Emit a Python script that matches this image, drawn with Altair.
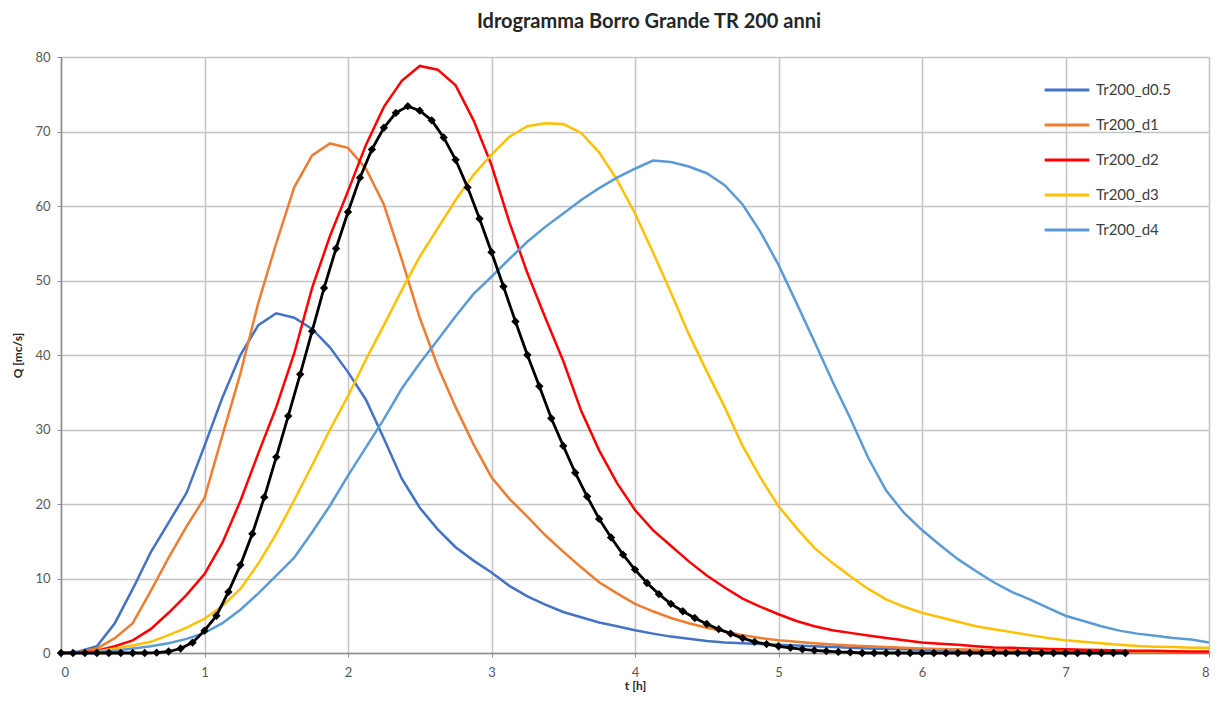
import altair as alt
import pandas as pd

t_grid = [i * 0.125 for i in range(65)]

d05 = [0, 0.2, 0.9, 4.0, 8.6, 13.5, 17.5, 21.5, 27.8, 34.3, 40.0, 44.0, 45.6, 45.0, 43.5, 41.0,
       37.7, 34.0, 28.8, 23.4, 19.5, 16.6, 14.2, 12.4, 10.8, 9.0, 7.6, 6.5, 5.5, 4.8, 4.1, 3.6,
       3.05, 2.6, 2.2, 1.9, 1.6, 1.4, 1.3, 1.2, 1.1, 1.0, 0.9, 0.8, 0.7, 0.6, 0.55, 0.5,
       0.45, 0.4, 0.35, 0.3, 0.3, 0.25, 0.2, 0.2, 0.15, 0.15, 0.1, 0.1, 0.1, 0.05, 0.05, 0.05, 0.05]
d1 = [0, 0.1, 0.6, 2.0, 4.0, 8.3, 12.8, 17.0, 20.8, 29.2, 37.5, 47.0, 55.0, 62.5, 66.8, 68.4,
      67.8, 65.0, 60.2, 52.8, 45.0, 38.5, 33.0, 28.0, 23.6, 20.7, 18.3, 15.8, 13.6, 11.5, 9.5, 8.0,
      6.6, 5.6, 4.7, 4.0, 3.4, 2.9, 2.4, 2.0, 1.7, 1.5, 1.3, 1.15, 1.0, 0.9, 0.8, 0.7,
      0.6, 0.55, 0.5, 0.45, 0.4, 0.35, 0.3, 0.3, 0.25, 0.2, 0.2, 0.15, 0.15, 0.1, 0.1, 0.1, 0.1]
d2 = [0, 0.05, 0.3, 0.9, 1.7, 3.2, 5.4, 7.8, 10.6, 14.8, 20.4, 26.8, 33.0, 40.2, 49.0, 56.0,
      62.0, 68.2, 73.3, 76.8, 78.8, 78.3, 76.2, 71.5, 65.5, 57.8, 51.0, 45.0, 39.2, 32.5, 27.2, 22.8,
      19.2, 16.5, 14.4, 12.3, 10.4, 8.8, 7.3, 6.2, 5.2, 4.3, 3.6, 3.05, 2.7, 2.35, 2.0, 1.7,
      1.4, 1.25, 1.1, 0.9, 0.75, 0.7, 0.6, 0.55, 0.5, 0.45, 0.4, 0.35, 0.3, 0.3, 0.25, 0.2, 0.2]
d3 = [0, 0.05, 0.2, 0.6, 1.0, 1.5, 2.4, 3.4, 4.6, 6.3, 8.6, 12.0, 16.0, 20.5, 25.2, 30.0,
      34.5, 39.4, 44.0, 48.7, 53.2, 57.0, 60.8, 64.2, 66.9, 69.3, 70.7, 71.1, 71.0, 69.8, 67.2, 63.5,
      59.0, 53.8, 48.4, 42.8, 37.8, 33.0, 27.8, 23.5, 19.7, 16.8, 14.1, 12.1, 10.3, 8.6, 7.2, 6.2,
      5.4, 4.8, 4.2, 3.6, 3.2, 2.8, 2.4, 2.0, 1.7, 1.5, 1.3, 1.1, 0.95, 0.85, 0.8, 0.7, 0.7]
d4 = [0, 0.05, 0.15, 0.3, 0.6, 0.9, 1.3, 1.9, 2.7, 4.0, 5.8, 8.0, 10.4, 12.8, 16.2, 19.8,
      23.8, 27.6, 31.4, 35.5, 38.9, 42.0, 45.2, 48.2, 50.5, 52.9, 55.2, 57.2, 59.0, 60.8, 62.4, 63.8,
      65.0, 66.1, 65.9, 65.3, 64.4, 62.8, 60.2, 56.5, 52.1, 47.0, 41.8, 36.5, 31.5, 26.2, 21.8, 18.8,
      16.5, 14.5, 12.6, 11.0, 9.5, 8.2, 7.2, 6.1, 5.0, 4.3, 3.6, 3.0, 2.6, 2.3, 2.0, 1.8, 1.4]

series_names = ["Tr200_d0.5", "Tr200_d1", "Tr200_d2", "Tr200_d3", "Tr200_d4"]
series_colors = ["#4472C4", "#ED7D31", "#FF0000", "#FFC000", "#5B9BD5"]

# black series with markers, 5-minute steps
t_black = [i / 12 for i in range(90)]
q_black = [0, 0, 0, 0, 0, 0, 0, 0, 0.05, 0.2, 0.6, 1.4, 3.0, 5.0, 8.2, 11.8, 16.0, 20.9, 26.3,
           31.8, 37.4, 43.2, 49.0, 54.3, 59.2, 63.8, 67.6, 70.5, 72.5, 73.4, 72.8, 71.5, 69.2,
           66.2, 62.5, 58.3, 53.8, 49.2, 44.5, 40.0, 35.8, 31.5, 27.8, 24.2, 21.0, 18.0, 15.5,
           13.2, 11.2, 9.4, 7.9, 6.6, 5.6, 4.7, 3.9, 3.2, 2.6, 2.0, 1.5, 1.2, 0.9, 0.7, 0.5,
           0.35, 0.25, 0.15, 0.1] + [0] * 23

x_ticks = [0, 1, 2, 3, 4, 5, 6, 7, 8]
y_ticks = [0, 10, 20, 30, 40, 50, 60, 70, 80]

rows = []
for name, vals in zip(series_names, [d05, d1, d2, d3, d4]):
    for t, q in zip(t_grid, vals):
        rows.append({"t": t, "Q": q, "serie": name})
df = pd.DataFrame(rows)
df_black = pd.DataFrame({"t": t_black, "Q": q_black})

FONT = "Lato"

x_enc = alt.X("t:Q", scale=alt.Scale(domain=[0, 8], nice=False),
              axis=alt.Axis(title="t [h]", values=x_ticks, format="d"))
y_enc = alt.Y("Q:Q", scale=alt.Scale(domain=[0, 80], nice=False),
              axis=alt.Axis(title="Q [mc/s]", values=y_ticks, format="d"))

lines = alt.Chart(df).mark_line(strokeWidth=2.5).encode(
    x=x_enc,
    y=y_enc,
    color=alt.Color("serie:N", scale=alt.Scale(domain=series_names, range=series_colors),
                    sort=series_names,
                    legend=alt.Legend(title=None, orient="none", legendX=982, legendY=9,
                                      symbolType="stroke", symbolStrokeWidth=3, symbolSize=2000,
                                      labelFontSize=15, labelFont=FONT, labelColor="#404040",
                                      rowPadding=3, labelOffset=5)),
    order=alt.Order("t:Q"),
)

black = alt.Chart(df_black).mark_line(
    color="black", strokeWidth=2.8,
    point=alt.OverlayMarkDef(shape="diamond", filled=True, size=70, color="black"),
).encode(x="t:Q", y="Q:Q")

chart = alt.layer(lines, black).properties(
    width=1148, height=596,
    title=alt.Title("Idrogramma Borro Grande TR 200 anni", fontSize=20, font=FONT,
                    fontWeight="bold", color="#262626", offset=19, anchor="middle", dx=14),
    padding={"left": 53, "top": 49, "right": 3, "bottom": 39},
    autosize=alt.AutoSizeParams(type="none"),
).configure_view(stroke=None).configure_axis(
    grid=True, gridColor="#C4C4C4", gridWidth=1.5,
    domainColor="#8C8C8C", domainWidth=1.5, tickColor="#8C8C8C", tickSize=4,
    labelFont=FONT, labelFontSize=13, labelColor="#595959",
    titleFont=FONT, titleFontSize=12, titleFontWeight="bold", titleColor="#262626",
).configure_axisX(labelPadding=9, titlePadding=1).configure_axisY(
    labelPadding=7, titlePadding=10)

chart.save("out.html", embed_options={"renderer": "svg", "actions": False})
